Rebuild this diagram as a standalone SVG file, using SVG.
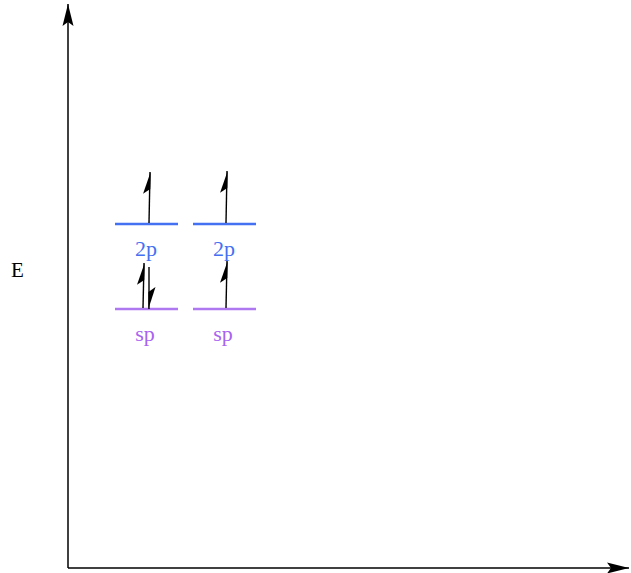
<svg xmlns="http://www.w3.org/2000/svg" width="631" height="573" viewBox="0 0 631 573">
  <style>
    .axis { stroke: #000; stroke-width: 1.5; fill: none; }
    .spin { stroke: #000; stroke-width: 1.4; fill: none; }
    .lvl2p { stroke: #4470f2; stroke-width: 2.6; }
    .lvlsp { stroke: #ae78f0; stroke-width: 2.6; }
    .lbl { font-family: "Liberation Serif", serif; font-size: 22px; text-anchor: middle; }
    .t2p { fill: #4470f2; }
    .tsp { fill: #a864f0; }
    .e { font-family: "Liberation Serif", serif; font-size: 21px; fill: #000; }
  </style>
  <defs>
    <marker id="axhead" markerUnits="userSpaceOnUse" markerWidth="24" markerHeight="14" refX="22" refY="7" orient="auto" viewBox="0 0 24 14">
      <path d="M22,7 L0,1.5 L4,7 L0,12.5 Z" fill="#000"/>
    </marker>
    <marker id="harpoon" markerUnits="userSpaceOnUse" markerWidth="24" markerHeight="10" refX="22" refY="8" orient="auto" viewBox="0 0 24 10">
      <path d="M22,8.6 L0,1.5 L5,8.6 Z" fill="#000"/>
    </marker>
  </defs>

  <g id="axes">
    <line class="axis" x1="68" y1="568" x2="68" y2="4" marker-end="url(#axhead)"/>
    <line class="axis" x1="68" y1="568" x2="629" y2="568" marker-end="url(#axhead)"/>
    <text class="e" x="11" y="277">E</text>
  </g>

  <g id="level-2p-a">
    <line class="lvl2p" x1="115" y1="224" x2="178" y2="224"/>
    <text class="lbl t2p" x="146" y="256">2p</text>
  </g>
  <g id="level-2p-b">
    <line class="lvl2p" x1="193" y1="224" x2="256" y2="224"/>
    <text class="lbl t2p" x="224" y="256">2p</text>
  </g>
  <g id="level-sp-a">
    <line class="lvlsp" x1="115" y1="309" x2="178" y2="309"/>
    <text class="lbl tsp" x="145" y="341">sp</text>
  </g>
  <g id="level-sp-b">
    <line class="lvlsp" x1="193" y1="309" x2="256" y2="309"/>
    <text class="lbl tsp" x="223" y="341">sp</text>
  </g>

  <g id="electrons">
    <line class="spin" x1="149" y1="223" x2="150" y2="172" marker-end="url(#harpoon)"/>
    <line class="spin" x1="226" y1="223" x2="227" y2="171" marker-end="url(#harpoon)"/>
    <line class="spin" x1="143" y1="308" x2="144" y2="263" marker-end="url(#harpoon)"/>
    <line class="spin" x1="149" y1="267" x2="149" y2="309" marker-end="url(#harpoon)"/>
    <line class="spin" x1="226" y1="308" x2="227" y2="261" marker-end="url(#harpoon)"/>
  </g>
</svg>
